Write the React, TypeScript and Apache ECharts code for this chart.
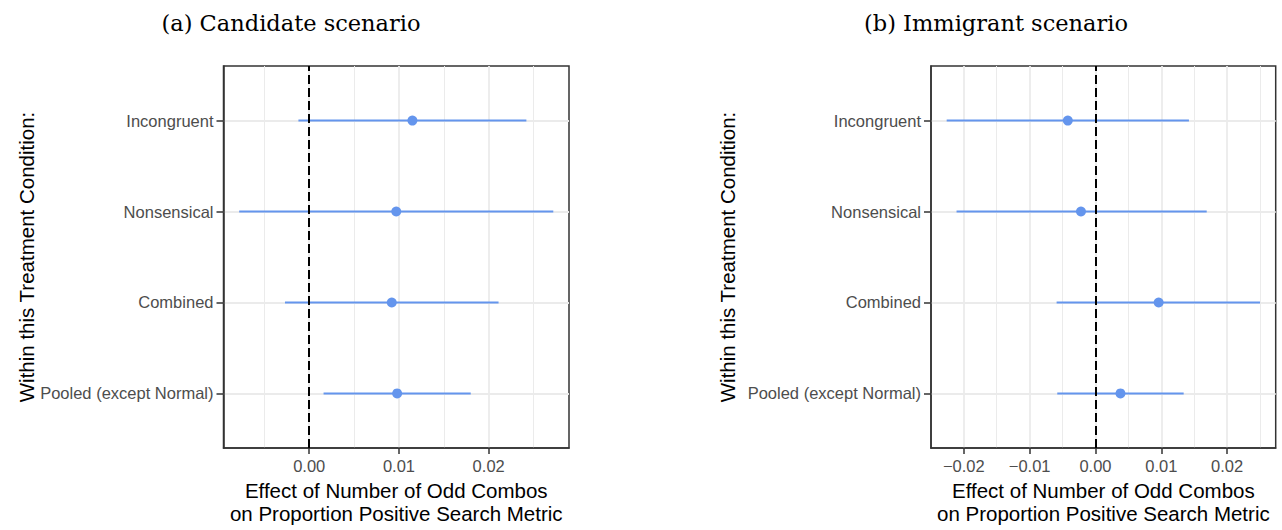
import React, { useEffect, useRef } from "react";
import * as echarts from "echarts";

// Treatment conditions, bottom to top
const categories = ["Pooled (except Normal)", "Combined", "Nonsensical", "Incongruent"];
const categoryPositions = [1, 2, 3, 4];

// (a) Candidate scenario: estimate and interval per condition
const candidateEst = [0.0098, 0.0092, 0.0097, 0.0115];
const candidateLo = [0.0016, -0.0027, -0.0078, -0.0012];
const candidateHi = [0.018, 0.0211, 0.0272, 0.0242];

// (b) Immigrant scenario
const immigrantEst = [0.0038, 0.0096, -0.0022, -0.0042];
const immigrantLo = [-0.0058, -0.0059, -0.0211, -0.0226];
const immigrantHi = [0.0134, 0.025, 0.0169, 0.0142];

// Axis breaks
const candidateMajor = [0, 0.01, 0.02];
const candidateMinor = [-0.005, 0.005, 0.015, 0.025];
const immigrantMajor = [-0.02, -0.01, 0, 0.01, 0.02];
const immigrantMinor = [-0.015, -0.005, 0.005, 0.015, 0.025];

const panelTitles = ["(a) Candidate scenario", "(b) Immigrant scenario"];
const xTitle = "Effect of Number of Odd Combos\non Proportion Positive Search Metric";
const yTitle = "Within this Treatment Condition:";

const BLUE = "#6495ED";
const GRID = "#EBEBEB";
const INK = "#333333";
const TICK_TEXT = "#4D4D4D";
const SANS = "'Liberation Sans', Arial, Helvetica, sans-serif";
const SERIF = "'DejaVu Serif', 'Liberation Serif', serif";

function fmt(v: number): string {
  const s = Math.abs(v).toFixed(2);
  return v < -1e-9 ? "\u2212" + s : s;
}

function expandRange(lo: number[], hi: number[]): [number, number] {
  const a = Math.min(...lo);
  const b = Math.max(...hi);
  const pad = (b - a) * 0.05;
  return [a - pad, b + pad];
}

export default function App() {
  const ref = useRef<HTMLDivElement>(null);

  useEffect(() => {
    if (!ref.current) return;
    const chart = echarts.init(ref.current, undefined, { renderer: "svg" });

    const panels = [
      { est: candidateEst, lo: candidateLo, hi: candidateHi, major: candidateMajor, minor: candidateMinor, left: 223.5, width: 345.5 },
      { est: immigrantEst, lo: immigrantLo, hi: immigrantHi, major: immigrantMajor, minor: immigrantMinor, left: 931, width: 344.7 },
    ];

    const grids: any[] = [];
    const xAxes: any[] = [];
    const yAxes: any[] = [];
    const series: any[] = [];

    panels.forEach((p, i) => {
      const [xmin, xmax] = expandRange(p.lo, p.hi);
      grids.push({
        left: p.left,
        width: p.width,
        top: 66,
        height: 382,
        show: true,
        borderColor: INK,
        borderWidth: 1.5,
        backgroundColor: "#fff",
      });
      // major axis with labels
      xAxes.push({
        type: "value",
        gridIndex: i,
        min: xmin,
        max: xmax,
        position: "bottom",
        axisLine: { show: true, onZero: false, lineStyle: { color: INK, width: 1.5 } },
        axisTick: { show: true, length: 6, customValues: p.major, lineStyle: { color: INK, width: 1.5 } },
        axisLabel: {
          show: true,
          customValues: p.major,
          formatter: (v: number) => fmt(v),
          color: TICK_TEXT,
          fontSize: 16.5,
          fontFamily: SANS,
          margin: 9,
        },
        splitLine: { show: true, lineStyle: { color: GRID, width: 1.8 } },
      });
      // minor grid lines
      xAxes.push({
        type: "value",
        gridIndex: i,
        min: xmin,
        max: xmax,
        position: "bottom",
        axisLine: { show: false },
        axisTick: { show: false, customValues: p.minor },
        axisLabel: { show: false, customValues: p.minor },
        splitLine: { show: true, lineStyle: { color: GRID, width: 1 } },
      });
      yAxes.push({
        type: "value",
        gridIndex: i,
        min: 0.4,
        max: 4.6,
        axisLine: { show: true, onZero: false, lineStyle: { color: INK, width: 1.5 } },
        axisTick: { show: true, length: 7, customValues: categoryPositions, lineStyle: { color: INK, width: 1.5 } },
        axisLabel: {
          show: true,
          customValues: categoryPositions,
          formatter: (v: number) => categories[Math.round(v) - 1] ?? "",
          color: TICK_TEXT,
          fontSize: 16.5,
          fontFamily: SANS,
          margin: 10,
        },
        splitLine: { show: true, lineStyle: { color: GRID, width: 2 } },
      });

      const xIdx = i * 2;
      series.push({
        type: "custom",
        xAxisIndex: xIdx,
        yAxisIndex: i,
        data: categoryPositions.map((y, k) => [p.lo[k], y, p.hi[k]]),
        encode: { x: [0, 2], y: 1 },
        renderItem: (_params: any, api: any) => {
          const y = api.value(1);
          const a = api.coord([api.value(0), y]);
          const b = api.coord([api.value(2), y]);
          return {
            type: "line",
            shape: { x1: a[0], y1: a[1], x2: b[0], y2: b[1] },
            style: { stroke: BLUE, lineWidth: 2 },
          };
        },
        silent: true,
      });
      series.push({
        type: "scatter",
        xAxisIndex: xIdx,
        yAxisIndex: i,
        data: categoryPositions.map((y, k) => [p.est[k], y]),
        symbol: "circle",
        symbolSize: 10,
        itemStyle: { color: BLUE, opacity: 1 },
        silent: true,
        markLine: {
          silent: true,
          symbol: ["none", "none"],
          label: { show: false },
          lineStyle: { color: "#000", type: [9, 4], width: 2 },
          data: [{ xAxis: 0 }],
        },
      });
    });

    const centers = [
      { title: 291, plot: 223.5 + 345.5 / 2, ytitle: 26 },
      { title: 996, plot: 931 + 344.7 / 2, ytitle: 727 },
    ];

    const graphics: any[] = [];
    centers.forEach((c, i) => {
      graphics.push({
        type: "text",
        x: c.title,
        y: 23,
        style: {
          text: panelTitles[i],
          fill: "#000",
          font: `22.5px ${SERIF}`,
          align: "center",
          verticalAlign: "middle",
        },
      });
      graphics.push({
        type: "text",
        x: c.ytitle,
        y: 257,
        rotation: Math.PI / 2,
        style: {
          text: yTitle,
          fill: "#000",
          font: `20.5px ${SANS}`,
          align: "center",
          verticalAlign: "middle",
        },
      });
      graphics.push({
        type: "text",
        x: c.plot,
        y: 478.5,
        style: {
          text: xTitle,
          fill: "#000",
          font: `20.5px ${SANS}`,
          lineHeight: 23,
          align: "center",
          verticalAlign: "top",
        },
      });
    });

    chart.setOption({
      animation: false,
      backgroundColor: "#fff",
      grid: grids,
      xAxis: xAxes,
      yAxis: yAxes,
      series,
      graphic: graphics,
    });

    return () => chart.dispose();
  }, []);

  return (
    <div
      ref={ref}
      style={{ position: "fixed", left: 0, top: 0, width: 1282, height: 530 }}
    />
  );
}
